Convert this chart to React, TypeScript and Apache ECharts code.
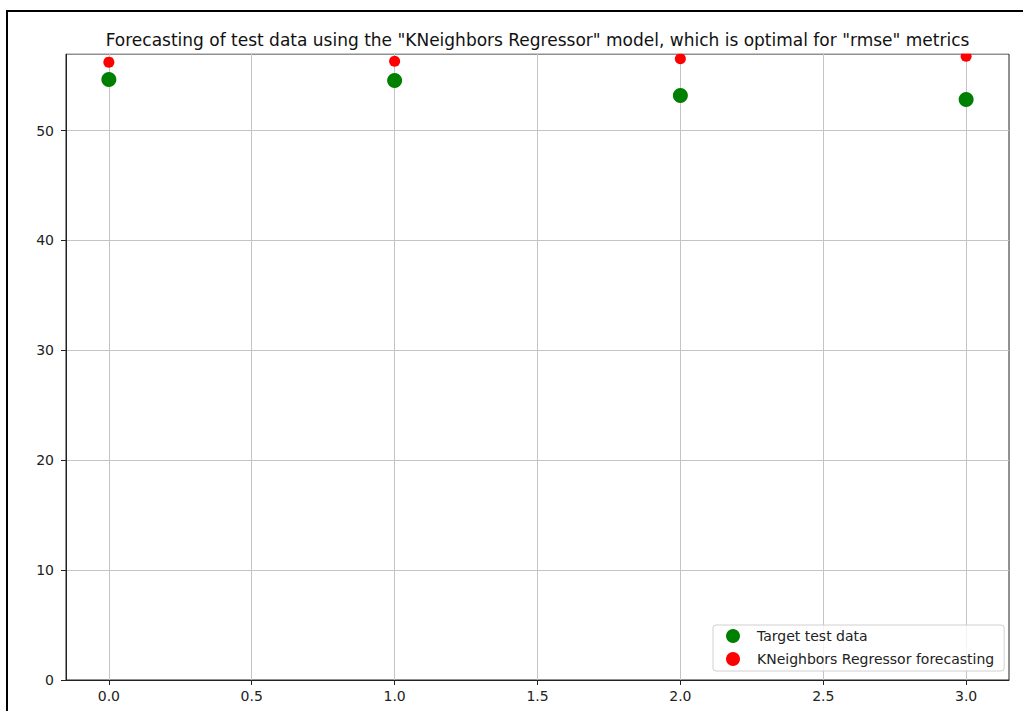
import React, { useEffect, useRef } from "react";
import * as echarts from "echarts";

const xValues = [0, 1, 2, 3];
const targetValues = [54.65, 54.55, 53.2, 52.83];
const forecastValues = [56.23, 56.32, 56.54, 56.77];
const xTicks = [0, 0.5, 1, 1.5, 2, 2.5, 3];
const yTicks = [0, 10, 20, 30, 40, 50];
const titleText =
  'Forecasting of test data using the "KNeighbors Regressor" model, which is optimal for "rmse" metrics';
const targetName = "Target test data";
const forecastName = "KNeighbors Regressor forecasting";

export default function App() {
  const ref = useRef<HTMLDivElement>(null);
  useEffect(() => {
    document.body.style.margin = "0";
    if (!ref.current) return;
    const chart = echarts.init(ref.current, undefined, { renderer: "svg" });
    const font = "DejaVu Sans";
    chart.setOption({
      animation: false,
      backgroundColor: "#fff",
      textStyle: { fontFamily: font },
      grid: {
        left: 66,
        top: 54,
        right: 14,
        bottom: 31,
        show: true,
        borderColor: "#222",
        borderWidth: 1,
        outerBoundsMode: "none",
      },
      xAxis: {
        type: "value",
        min: -0.15,
        max: 3.15,
        axisLine: { show: true, onZero: false, lineStyle: { color: "#222" } },
        axisTick: { show: true, length: 5, customValues: xTicks, lineStyle: { color: "#222" } },
        axisLabel: {
          customValues: xTicks,
          formatter: (v: number) => v.toFixed(1),
          fontSize: 14,
          color: "#222",
          margin: 9,
          fontFamily: font,
        },
        splitLine: { show: true, lineStyle: { color: "#c4c4c4", width: 1 } },
      },
      yAxis: {
        type: "value",
        min: 0,
        max: 56.97,
        axisLine: { show: true, onZero: false, lineStyle: { color: "#222" } },
        axisTick: { show: true, length: 5, customValues: yTicks, lineStyle: { color: "#222" } },
        axisLabel: {
          customValues: yTicks,
          formatter: (v: number) => String(Math.round(v)),
          fontSize: 14,
          color: "#222",
          margin: 12,
          fontFamily: font,
        },
        splitLine: { show: true, lineStyle: { color: "#c4c4c4", width: 1 } },
      },
      legend: {
        orient: "vertical",
        left: 713,
        top: 625,
        itemWidth: 38,
        itemHeight: 14,
        itemGap: 9,
        padding: [4, 10, 5, 13],
        borderColor: "#d0d0d0",
        borderWidth: 1,
        borderRadius: 3,
        backgroundColor: "rgba(255,255,255,0.8)",
        textStyle: { fontSize: 14, color: "#222", fontFamily: font },
        data: [targetName, forecastName],
      },
      series: [
        {
          name: targetName,
          type: "scatter",
          symbol: "circle",
          symbolSize: 15,
          itemStyle: { color: "#008000", opacity: 1 },
          data: xValues.map((x, i) => [x, targetValues[i]]),
          z: 2,
        },
        {
          name: forecastName,
          type: "scatter",
          symbol: "circle",
          symbolSize: 11,
          itemStyle: { color: "#ff0000", opacity: 1 },
          data: xValues.map((x, i) => [x, forecastValues[i]]),
          z: 3,
        },
      ],
      graphic: [
        {
          type: "rect",
          z: 50,
          silent: true,
          shape: { x: 60, y: 13, width: 960, height: 40.5 },
          style: { fill: "#fff" },
        },
        {
          type: "text",
          z: 60,
          x: 537.5,
          y: 40,
          style: {
            text: titleText,
            fontSize: 17,
            fontFamily: font,
            fill: "#111",
            textAlign: "center",
            textVerticalAlign: "middle",
          },
        },
        {
          type: "rect",
          z: 60,
          silent: true,
          shape: { x: 7, y: 11, width: 1040, height: 720 },
          style: { fill: "none", stroke: "#000", lineWidth: 2 },
        },
      ],
    });
    return () => chart.dispose();
  }, []);
  return <div ref={ref} style={{ width: 1023, height: 711 }} />;
}
